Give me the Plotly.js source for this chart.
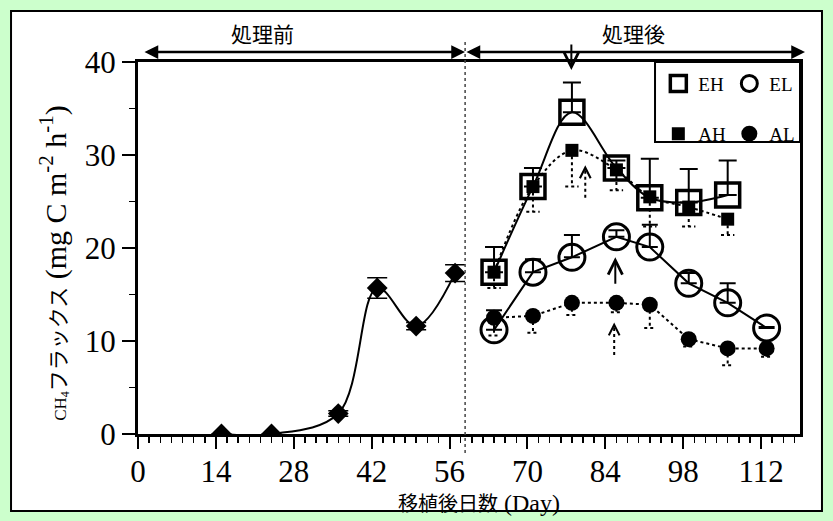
<!DOCTYPE html>
<html>
<head>
<meta charset="utf-8">
<script src="https://cdn.plot.ly/plotly-3.0.1.min.js"></script>
<style>html,body{margin:0;padding:0;background:#ccffcc;}#chart{width:833px;height:521px;}</style>
</head>
<body>
<div id="chart"></div>
<script>
// ---- data ----
const preDays = [15, 24, 36, 43, 50, 57];
const preFlux = [0, 0, 2.2, 15.7, 11.6, 17.3];
const preErr  = [0, 0, 0.3, 1.1, 0.4, 0.9];

const hDays = [64, 71, 78, 86, 92, 99, 106];
const lDays = [64, 71, 78, 86, 92, 99, 106, 113];

const ehFlux = [17.4, 26.6, 34.6, 28.6, 25.4, 24.9, 25.7];
const ehErr  = [2.7, 2.0, 3.2, 0.8, 4.2, 3.6, 3.7];

const ahFlux = [17.4, 26.6, 30.5, 28.4, 25.5, 24.4, 23.1];
const ahErr  = [1.7, 2.7, 3.9, 2.2, 3.2, 2.1, 1.7];

const elFlux = [11.2, 17.4, 19.0, 21.2, 20.1, 16.2, 14.1, 11.4];
const elErr  = [2.1, 1.4, 2.4, 0.7, 2.4, 1.1, 2.1, 0.1];

const alFlux = [12.5, 12.7, 14.1, 14.1, 13.9, 10.2, 9.2, 9.2];
const alErr  = [1.9, 1.8, 1.3, 1.0, 2.5, 0.8, 1.8, 0.9];

const seriesNames = ['EH', 'EL', 'AH', 'AL'];
const xTickVals = [0, 14, 28, 42, 56, 70, 84, 98, 112];
const yTickVals = [0, 10, 20, 30, 40];
const treatmentDay = 58.8;
const periodLabels = ['処理前', '処理後'];
const xTitle = '移植後日数<span style="font-family:Liberation Serif;font-size:24px"> (Day)</span>';
const yTitle = '<span style="font-size:17px">CH<sub>4</sub></span><span style="font-family:Noto Sans CJK JP;font-size:21px">フラックス</span> (mg C m<sup>-2</sup> h<sup>-1</sup>)&nbsp;&nbsp;&nbsp;&nbsp;';

// ---- helpers ----
function dottedDownErr(xs, ys, errs, hw) {
  const x = [], y = [];
  for (let i = 0; i < xs.length; i++) {
    const lo = ys[i] - errs[i];
    x.push(xs[i], xs[i], null, xs[i] - hw, xs[i] + hw, null);
    y.push(ys[i], lo, null, lo, lo, null);
  }
  return {x, y};
}
const ahE = dottedDownErr(hDays, ahFlux, ahErr, 1.2);
const alE = dottedDownErr(lDays, alFlux, alErr, 1.0);

const blk = '#000';
const traces = [
  {x: preDays, y: preFlux, mode: 'lines+markers', line: {shape: 'spline', color: blk, width: 2},
   marker: {symbol: 'diamond', size: 16, color: blk},
   error_y: {type: 'data', array: preErr, color: blk, thickness: 1.5, width: 10},
   showlegend: false, hoverinfo: 'skip'},
  {x: ahE.x, y: ahE.y, mode: 'lines', line: {color: blk, width: 2, dash: 'dot'}, showlegend: false, hoverinfo: 'skip'},
  {x: alE.x, y: alE.y, mode: 'lines', line: {color: blk, width: 2, dash: 'dot'}, showlegend: false, hoverinfo: 'skip'},
  {x: hDays, y: ahFlux, mode: 'lines', line: {shape: 'spline', color: blk, width: 2, dash: 'dot'}, showlegend: false, hoverinfo: 'skip'},
  {x: lDays, y: alFlux, mode: 'lines', line: {color: blk, width: 2, dash: 'dot'}, showlegend: false, hoverinfo: 'skip'},
  {x: hDays, y: ehFlux, mode: 'lines', line: {shape: 'spline', color: blk, width: 2}, showlegend: false, hoverinfo: 'skip'},
  {x: lDays, y: elFlux, mode: 'lines', line: {color: blk, width: 2}, showlegend: false, hoverinfo: 'skip'},
  {x: hDays, y: ehFlux, name: seriesNames[0], mode: 'markers', legend: 'legend',
   marker: {symbol: 'square-open', size: 24, color: blk, line: {width: 3.5, color: blk}},
   error_y: {type: 'data', symmetric: false, array: ehErr, arrayminus: ehErr.map(() => 0), color: blk, thickness: 2, width: 9}},
  {x: lDays, y: elFlux, name: seriesNames[1], mode: 'markers', legend: 'legend',
   marker: {symbol: 'circle-open', size: 26, color: blk, line: {width: 3, color: blk}},
   error_y: {type: 'data', symmetric: false, array: elErr, arrayminus: elErr.map(() => 0), color: blk, thickness: 2, width: 8}},
  {x: hDays, y: ahFlux, name: seriesNames[2], mode: 'markers', legend: 'legend2',
   marker: {symbol: 'square', size: 13, color: blk}},
  {x: lDays, y: alFlux, name: seriesNames[3], mode: 'markers', legend: 'legend2',
   marker: {symbol: 'circle', size: 16, color: blk}}
];

const annFont = {family: 'Noto Sans CJK JP', size: 21, color: blk};
const legendCommon = {xanchor: 'left', yanchor: 'top', orientation: 'h',
  entrywidth: 26, entrywidthmode: 'pixels', bgcolor: 'rgba(0,0,0,0)', borderwidth: 0,
  font: {family: 'Liberation Serif', size: 19, color: blk}};
const layout = {
  width: 833, height: 521,
  margin: {l: 138, r: 33, t: 62, b: 87, autoexpand: false},
  paper_bgcolor: '#ccffcc',
  plot_bgcolor: '#ffffff',
  font: {family: 'Liberation Serif', color: blk},
  xaxis: {
    range: [0, 119], tickvals: xTickVals, ticktext: xTickVals.map(String),
    ticks: 'outside', ticklen: 12, tickwidth: 2, tickcolor: blk, ticklabelstandoff: -4,
    minor: {dtick: 2, tick0: 0, ticks: 'outside', ticklen: 6, tickwidth: 1.5, tickcolor: blk},
    showline: true, linewidth: 3, linecolor: blk, mirror: true,
    showgrid: false, zeroline: false, automargin: false,
    tickfont: {family: 'Liberation Serif', size: 31, color: blk}
  },
  yaxis: {
    range: [0, 40], tickvals: yTickVals,
    ticks: 'outside', ticklen: 13, tickwidth: 2, tickcolor: blk,
    minor: {dtick: 5, tick0: 0, ticks: 'outside', ticklen: 6, tickwidth: 1.5, tickcolor: blk},
    showline: true, linewidth: 3, linecolor: blk, mirror: true,
    showgrid: false, zeroline: false, automargin: false,
    tickfont: {family: 'Liberation Serif', size: 31, color: blk},
    title: {text: yTitle, font: {family: 'Liberation Serif', size: 30, color: blk}, standoff: 10}
  },
  legend: Object.assign({x: 0.786, y: 0.993}, legendCommon),
  legend2: Object.assign({x: 0.786, y: 0.858}, legendCommon),
  shapes: [
    {type: 'rect', xref: 'paper', yref: 'paper', x0: -0.1918, x1: 1.0332, y0: -0.207, y1: 1.137,
     fillcolor: '#ffffff', line: {color: blk, width: 2}, layer: 'below'},
    {type: 'line', xref: 'x', yref: 'paper', x0: treatmentDay, x1: treatmentDay, y0: -0.051, y1: 1.06,
     line: {color: '#444', width: 1.5, dash: 'dot'}},
    {type: 'rect', xref: 'paper', yref: 'paper', x0: 0.781, x1: 1.0, y0: 0.785, y1: 1.0,
     fillcolor: '#ffffff', line: {color: blk, width: 2}, layer: 'above'},
    {type: 'line', xref: 'x', yref: 'y', x0: 80.4, x1: 80.4, y0: 25.4, y1: 28.6, line: {color: blk, width: 2, dash: 'dot'}},
    {type: 'line', xref: 'x', yref: 'y', x0: 85.6, x1: 85.6, y0: 8.5, y1: 11.7, line: {color: blk, width: 2, dash: 'dot'}}
  ],
  annotations: [
    {xref: 'paper', yref: 'paper', x: (262 - 138) / 662, y: (434 - 33) / 372, xanchor: 'center', yanchor: 'middle',
     text: periodLabels[0], showarrow: false, font: annFont},
    {xref: 'paper', yref: 'paper', x: (633 - 138) / 662, y: (434 - 33) / 372, xanchor: 'center', yanchor: 'middle',
     text: periodLabels[1], showarrow: false, font: annFont},
    {xref: 'paper', yref: 'paper', x: (479 - 138) / 662, y: (434 - 502) / 372, xanchor: 'center', yanchor: 'middle',
     text: xTitle, showarrow: false, font: {family: 'Noto Sans CJK JP', size: 20, color: blk}},
    {xref: 'paper', yref: 'paper', x: (465 - 138) / 662, y: (434 - 52) / 372, ax: -322, ay: 0, axref: 'pixel', ayref: 'pixel',
     text: '', showarrow: true, arrowside: 'end+start', arrowhead: 2, arrowsize: 1.1, arrowwidth: 2.5, arrowcolor: blk},
    {xref: 'paper', yref: 'paper', x: (805 - 138) / 662, y: (434 - 52) / 372, ax: -340, ay: 0, axref: 'pixel', ayref: 'pixel',
     text: '', showarrow: true, arrowside: 'end+start', arrowhead: 2, arrowsize: 1.1, arrowwidth: 2.5, arrowcolor: blk},
    {xref: 'x', yref: 'paper', x: 77.9, y: (434 - 70) / 372, ax: 0, ay: -27, axref: 'pixel', ayref: 'pixel',
     text: '', showarrow: true, arrowhead: 5, arrowsize: 1.4, arrowwidth: 2, arrowcolor: blk},
    {xref: 'x', yref: 'y', x: 85.8, y: 19.0, ax: 85.8, ay: 16.0, axref: 'x', ayref: 'y',
     text: '', showarrow: true, arrowhead: 5, arrowsize: 1.4, arrowwidth: 2, arrowcolor: blk},
    {xref: 'x', yref: 'y', x: 80.4, y: 28.9, ax: 0, ay: 6, axref: 'pixel', ayref: 'pixel',
     text: '', showarrow: true, arrowhead: 5, arrowsize: 1.4, arrowwidth: 1.5, arrowcolor: blk},
    {xref: 'x', yref: 'y', x: 85.6, y: 12.0, ax: 0, ay: 6, axref: 'pixel', ayref: 'pixel',
     text: '', showarrow: true, arrowhead: 5, arrowsize: 1.4, arrowwidth: 1.5, arrowcolor: blk}
  ]
};

Plotly.newPlot('chart', traces, layout, {staticPlot: true, displayModeBar: false});
</script>
</body>
</html>
